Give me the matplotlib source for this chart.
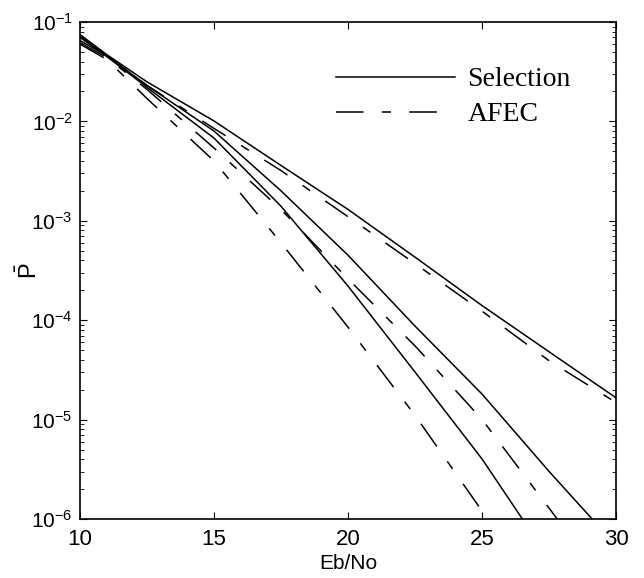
import matplotlib
matplotlib.use('Agg')
import matplotlib.pyplot as plt
from matplotlib.ticker import LogLocator, NullFormatter, FixedLocator

plt.rcParams['font.family'] = ['Liberation Sans', 'DejaVu Sans']
plt.rcParams['mathtext.fontset'] = 'custom'
plt.rcParams['mathtext.rm'] = 'Liberation Sans'
plt.rcParams['mathtext.it'] = 'Liberation Sans:italic'
plt.rcParams['mathtext.bf'] = 'Liberation Sans:bold'

# Eb/No grid (dB) and error probabilities
ebno = [10, 11, 12.5, 15, 17.5, 20, 22.5, 25, 27.5, 30]

sel_top = [0.075, 0.047, 0.025, 1.01e-2, 3.6e-3, 1.3e-3, 4.3e-4, 1.4e-4, 4.8e-5, 1.65e-5]
afec_top = [0.065, 0.046, 0.023, 8.5e-3, 3.2e-3, 1.1e-3, 3.7e-4, 1.23e-4, 3.9e-5, 1.48e-5]

ebno_mid = [10, 11, 12.5, 15, 17.5, 20, 22.5, 25, 27.5, 29.1]
sel_mid = [0.072, 0.046, 0.023, 8.0e-3, 2.0e-3, 4.5e-4, 8.7e-5, 1.8e-5, 3.0e-6, 1.0e-6]

ebno_mid2 = [10, 11, 12.5, 15, 17.5, 20, 22.5, 25, 27.8]
afec_mid = [0.062, 0.044, 0.021, 5.4e-3, 1.3e-3, 2.6e-4, 5.5e-5, 1.0e-5, 1.0e-6]

ebno_low = [10, 11, 12.5, 15, 17.5, 20, 22.5, 25, 26.5]
sel_low = [0.07, 0.045, 0.022, 6.8e-3, 1.4e-3, 2.2e-4, 3.0e-5, 4.0e-6, 1.0e-6]

ebno_low2 = [10, 11, 12.5, 15, 17.5, 20, 22.5, 25, 25.2]
afec_low = [0.06, 0.042, 0.017, 4.0e-3, 6.0e-4, 8.5e-5, 1.1e-5, 1.2e-6, 1.0e-6]

dashdot = (18, 12, 6, 12)

fig = plt.figure(figsize=(6.44, 5.78), dpi=100)
ax = fig.add_axes([0.124, 0.102, 0.833, 0.86])

ax.semilogy(ebno, sel_top, '-', color='k', lw=1.1, label='Selection')
ax.semilogy(ebno_mid, sel_mid, '-', color='k', lw=1.1)
ax.semilogy(ebno_low, sel_low, '-', color='k', lw=1.1)
ax.semilogy(ebno, afec_top, color='k', lw=1.1, dashes=dashdot, label='AFEC')
ax.semilogy(ebno_mid2, afec_mid, color='k', lw=1.1, dashes=dashdot)
ax.semilogy(ebno_low2, afec_low, color='k', lw=1.1, dashes=dashdot)

ax.set_xlim(10, 30)
ax.set_ylim(1e-6, 1e-1)
ax.xaxis.set_major_locator(FixedLocator([10, 15, 20, 25, 30]))
ax.yaxis.set_major_locator(LogLocator(base=10, numticks=10))
ax.yaxis.set_minor_locator(LogLocator(base=10, subs=range(2, 10), numticks=20))
ax.yaxis.set_minor_formatter(NullFormatter())
ax.tick_params(which='both', direction='in', top=True, right=True)
ax.tick_params(which='major', length=5, labelsize=15, pad=5)
ax.tick_params(axis='x', which='major', labelsize=16, pad=7)
ax.tick_params(which='minor', length=3)
for sp in ax.spines.values():
    sp.set_linewidth(1.2)

ax.set_xlabel('Eb/No', fontsize=15, labelpad=3)
ax.set_ylabel(r'$\bar{\mathrm{P}}$', fontsize=17)
ax.yaxis.set_label_coords(-0.07, 0.5)

leg = ax.legend(loc='upper left', bbox_to_anchor=(0.43, 0.96), frameon=False,
                handlelength=4.3, handletextpad=0.45, labelspacing=0.35,
                prop={'family': 'Liberation Serif', 'size': 20})

fig.savefig('out.png', dpi=100)
